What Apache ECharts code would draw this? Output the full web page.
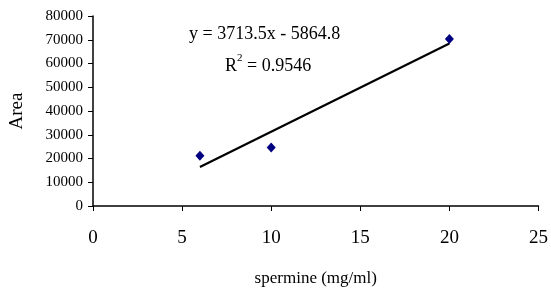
<!DOCTYPE html>
<html>
<head>
<meta charset="utf-8">
<script src="https://cdn.jsdelivr.net/npm/echarts@6/dist/echarts.min.js"></script>
<style>
  html, body { margin: 0; padding: 0; background: #fff; }
  #chart { width: 551px; height: 292px; }
</style>
</head>
<body>
<div id="chart"></div>
<script>
// spermine concentration (mg/ml) vs peak area
const spermine = [6, 10, 20];
const area = [21200, 24600, 70300];
const slope = 3713.5;
const intercept = -5864.8;
const rSquared = '0.9546';
const xTicks = [0, 5, 10, 15, 20, 25];
const yTicks = [0, 10000, 20000, 30000, 40000, 50000, 60000, 70000, 80000];

const points = spermine.map((x, i) => [x, area[i]]);
const xMin = Math.min(...spermine);
const xMax = Math.max(...spermine);
const trend = [[xMin, slope * xMin + intercept], [xMax, slope * xMax + intercept]];

const font = '"Liberation Serif", "Times New Roman", serif';

const chart = echarts.init(document.getElementById('chart'), null, { renderer: 'canvas' });
chart.setOption({
  animation: false,
  backgroundColor: '#fff',
  grid: { left: 93, right: 10, top: 16, bottom: 84 },
  xAxis: {
    type: 'value',
    min: xTicks[0],
    max: xTicks[xTicks.length - 1],
    interval: 5,
    name: 'spermine (mg/ml)',
    nameLocation: 'middle',
    nameGap: 64,
    nameTextStyle: { fontFamily: font, fontSize: 17, color: '#000' },
    axisLine: { lineStyle: { color: '#000', width: 1.5 } },
    axisTick: { show: true, length: 5, inside: false, lineStyle: { color: '#000' } },
    axisLabel: { fontFamily: font, fontSize: 19, color: '#000', margin: 23 },
    splitLine: { show: false }
  },
  yAxis: {
    type: 'value',
    min: yTicks[0],
    max: yTicks[yTicks.length - 1],
    interval: 10000,
    name: 'Area',
    nameLocation: 'middle',
    nameGap: 66,
    nameTextStyle: { fontFamily: font, fontSize: 19, color: '#000' },
    axisLine: { show: true, lineStyle: { color: '#000', width: 1.5 } },
    axisTick: { show: true, length: 5, lineStyle: { color: '#000' } },
    axisLabel: { fontFamily: font, fontSize: 15, color: '#000', margin: 10, formatter: v => String(v) },
    splitLine: { show: false }
  },
  series: [
    {
      type: 'line',
      data: trend,
      symbol: 'none',
      lineStyle: { color: '#000', width: 2.2 },
      z: 2
    },
    {
      type: 'scatter',
      data: points,
      symbol: 'diamond',
      symbolSize: [9, 10],
      itemStyle: { color: '#000080', opacity: 1 },
      z: 3
    }
  ],
  graphic: [
    {
      type: 'text',
      left: 277 - 88,
      top: 25,
      style: {
        text: 'y = 3713.5x - 5864.8',
        font: '18px ' + font,
        fill: '#000'
      }
    },
    {
      type: 'text',
      left: 225,
      top: 53,
      style: {
        text: '{b|R}{s|2}{b| = ' + rSquared + '}',
        fill: '#000',
        rich: {
          b: { fontFamily: font, fontSize: 18, color: '#000', verticalAlign: 'bottom', lineHeight: 22 },
          s: { fontFamily: font, fontSize: 11, color: '#000', verticalAlign: 'top', lineHeight: 22 }
        }
      }
    }
  ]
});
</script>
</body>
</html>
